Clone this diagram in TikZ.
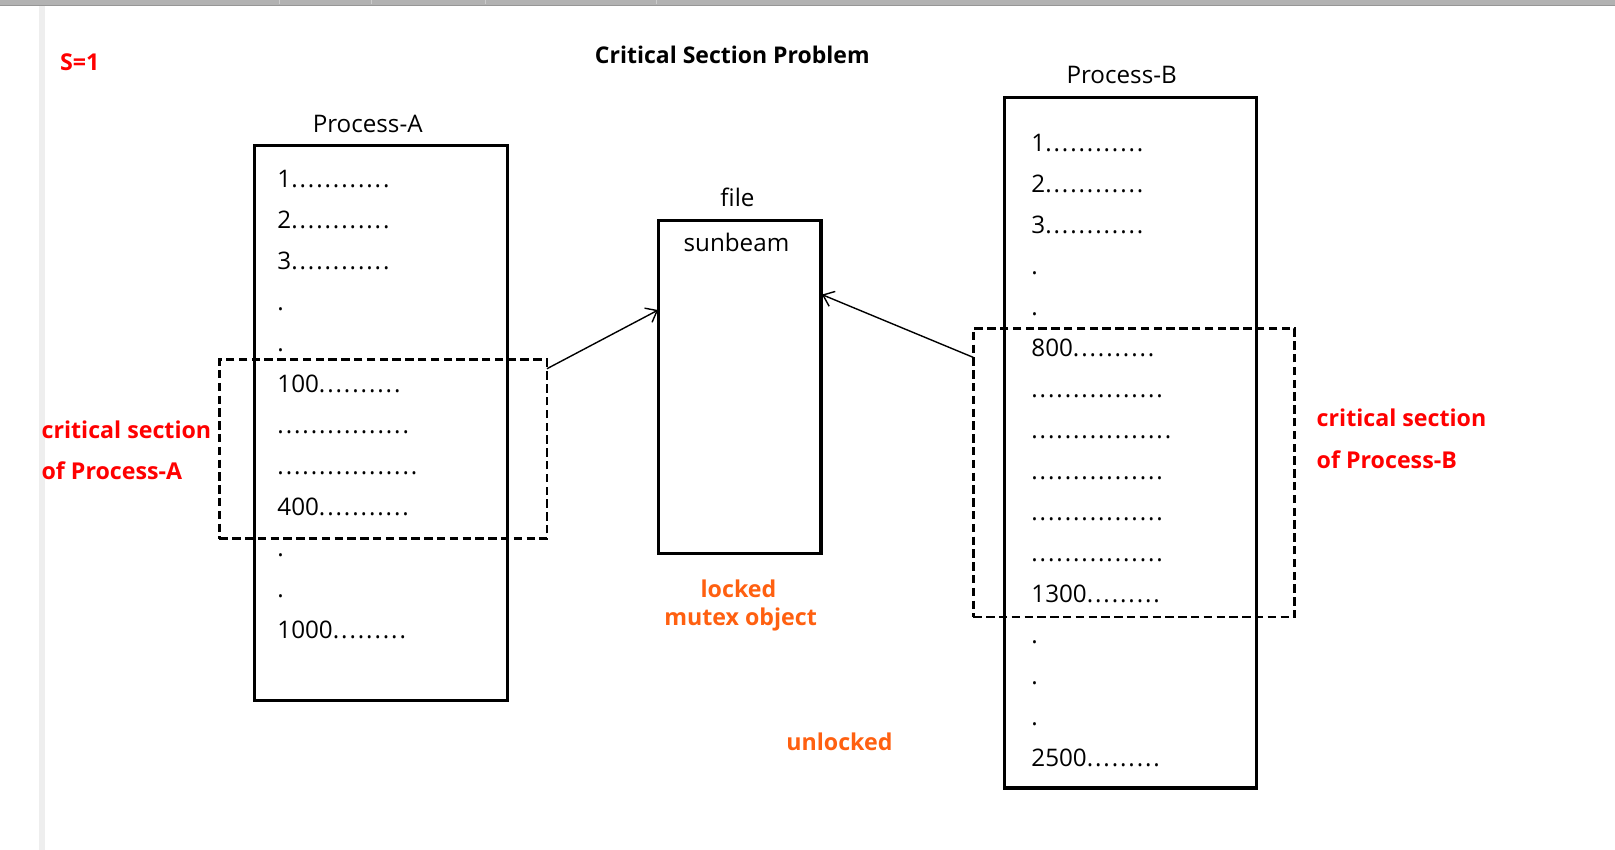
\documentclass[tikz,border=0pt]{standalone}
\usepackage{fontspec}
\setmainfont{Open Sans}
\usetikzlibrary{fit,arrows.meta}
\definecolor{lockorange}{RGB}{255,96,16}
\definecolor{barg}{RGB}{178,178,178}
\definecolor{bardark}{RGB}{150,150,150}
\definecolor{sideg}{RGB}{238,238,238}
\newcommand\dts[1]{\foreach\i in {1,...,#1}{.\kern0.95pt}}
\begin{document}
\begin{tikzpicture}[x=0.515pt,y=-0.515pt,
 txt/.style={font=\fontsize{12.1}{14}\selectfont, inner sep=0},
 codeline/.style={txt, anchor=base west},
 redlbl/.style={font=\fontsize{11.6}{14}\selectfont\bfseries, text=red, inner sep=0, anchor=west},
 orglbl/.style={font=\fontsize{11.6}{14}\selectfont\bfseries, text=lockorange, inner sep=0, anchor=base},
 procbox/.style={draw, line width=1.6pt, inner sep=0},
 csbox/.style={draw, line width=1.4pt, dash pattern=on 4.2pt off 2.2pt, inner sep=0},
 conn/.style={line width=0.7pt, -{Straight Barb[length=5pt,width=8pt]}}]
\useasboundingbox (0,0) rectangle (1568,825);
\fill[white] (0,0) rectangle (1568,825);
% window chrome
\fill[barg] (0,0) rectangle (1568,5);
\draw[bardark, line width=0.6pt] (0,5) -- (1568,5);
\foreach \tx in {271,361,471,637} \draw[gray!40, line width=0.5pt] (\tx,0) -- (\tx,4);
\fill[sideg] (38,6) rectangle (44,825);

% title and counter
\node[redlbl] (s) at (58,60) {S=1};
\node[font=\fontsize{11.5}{14}\selectfont\bfseries, inner sep=0] (title) at (711,53) {Critical Section Problem};

% Process A
\node[txt] (pAlbl) at (357,120) {Process-A};
\node[procbox, fit={(247,141)(493,680)}] (pA) {};
\foreach \t [count=\k from 0] in {1\dts{12},2\dts{12},3\dts{12},.,.,100\dts{10},\dts{16},\dts{17},400\dts{11},.,.,1000\dts{9}}
  \node[codeline] (a\k) at (269,{182.5+39.8*\k}) {\t};
\node[csbox, fit={(213,349)(531,523)}] (csA) {};
\node[redlbl] (csAl1) at (40,417) {critical section};
\node[redlbl] (csAl2) at (40,457) {of Process-A};

% file
\node[txt] (filelbl) at (716,192) {file};
\node[procbox, fit={(639,214)(797,537)}] (file) {};
\node[txt] (sun) at (715,235) {sunbeam};
\node[orglbl] (lock) at (717,580) {locked};
\node[orglbl] (mutex) at (719,607) {mutex object};
\node[orglbl] (unlock) at (815,729) {unlocked};

% Process B
\node[txt] (pBlbl) at (1089,73) {Process-B};
\node[procbox, fit={(975,95)(1220,765)}] (pB) {};
\foreach \t [count=\k from 0] in {1\dts{12},2\dts{12},3\dts{12},.,.,800\dts{10},\dts{16},\dts{17},\dts{16},\dts{16},\dts{16},1300\dts{9},.,.,.,2500\dts{9}}
  \node[codeline] (b\k) at (1001,{147+39.8*\k}) {\t};
\node[csbox, fit={(945,319)(1257,599)}] (csB) {};
\node[redlbl] (csBl1) at (1278,406) {critical section};
\node[redlbl] (csBl2) at (1278,446) {of Process-B};

% connectors
\coordinate (csAout) at (531,358);
\coordinate (fileinL) at (639,301);
\coordinate (csBout) at (945,347);
\coordinate (fileinR) at (798,286);
\draw[conn] (csAout) -- (fileinL);
\draw[conn] (csBout) -- (fileinR);
\end{tikzpicture}
\end{document}
